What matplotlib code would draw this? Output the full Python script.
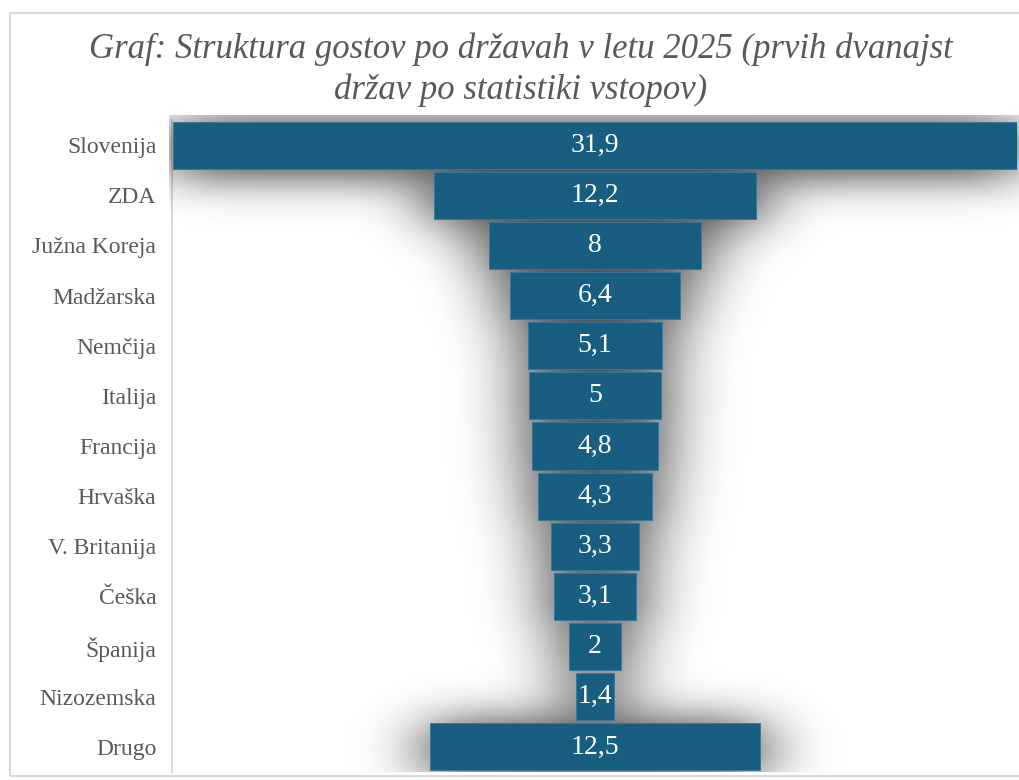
import numpy as np
import matplotlib.pyplot as plt
from matplotlib.patches import Rectangle

countries = ['Slovenija', 'ZDA', 'Južna Koreja', 'Madžarska', 'Nemčija', 'Italija',
             'Francija', 'Hrvaška', 'V. Britanija', 'Češka', 'Španija', 'Nizozemska', 'Drugo']
shares = [31.9, 12.2, 8.0, 6.4, 5.1, 5.0, 4.8, 4.3, 3.3, 3.1, 2.0, 1.4, 12.5]
title = 'Graf: Struktura gostov po državah v letu 2025 (prvih dvanajst\ndržav po statistiki vstopov)'

bar_color = '#175E80'
text_grey = '#595959'
serif = 'Liberation Serif'

W, H = 1019, 780
fig = plt.figure(figsize=(W / 100, H / 100), dpi=100)

# outer chart frame (runs off the right edge like the original)
fig.patches.append(Rectangle((10 / W, 1 - 776 / H), 1.1, (776 - 13) / H,
                             transform=fig.transFigure, fill=False,
                             edgecolor='#d9d9d9', linewidth=1.5))

ax = fig.add_axes([173 / W, 1 - 772 / H, (1017 - 173) / W, (772 - 120) / H])
for s in ['top', 'right', 'bottom']:
    ax.spines[s].set_visible(False)
ax.spines['left'].set_color('#d9d9d9')
ax.spines['left'].set_linewidth(1.5)
ax.spines['left'].set_position(('outward', 1))
ax.spines['left'].set_zorder(0.5)

half = max(shares) / 2
n = len(countries)
y = np.arange(n)
bh = 0.94
left = [-v / 2 for v in shares]

# soft drop shadow: each bar blurred separately, then composited like layered alpha
nx, ny = 844, 652
px_x = 2 * half / nx
px_y = n / ny
ext_l, ext_t, ext_r = 4, 5, 6           # shadow may spill a few px outside the axes
pad = 110
xs = -half + px_x * (np.arange(-ext_l - pad, nx + ext_r + pad) + 0.5)
ys = -0.5 + px_y * (np.arange(-ext_t - pad, ny + pad) + 0.5)


def gauss(sig):
    k = np.arange(-3 * sig, 3 * sig + 1)
    g = np.exp(-k ** 2 / (2 * sig ** 2))
    return g / g.sum()


kx, ky = gauss(34), gauss(22)
keep = 1.0
for yi, v in zip(y, shares):
    ix = (np.abs(xs) <= v / 2 + 2 * px_x).astype(float)
    iy = (np.abs(ys - (yi + 3 * px_y)) <= bh / 2 + 1 * px_y).astype(float)
    bx = np.convolve(ix, kx, mode='same')
    by = np.convolve(iy, ky, mode='same')
    keep = keep * (1 - 0.88 * np.outer(by, bx))
alpha = (1 - keep)[pad:-pad, pad:-pad]
rgba = np.zeros(alpha.shape + (4,))
rgba[..., 3] = alpha
ax.imshow(rgba, extent=(-half - ext_l * px_x, half + ext_r * px_x, n - 0.5, -0.5 - ext_t * px_y),
          aspect='auto', interpolation='bilinear', zorder=1, clip_on=False)

ax.barh(y, shares, left=left, height=bh, color=bar_color,
        edgecolor='#3a7797', linewidth=0.6, zorder=2)
ax.set_xlim(-half, half)
ax.set_ylim(n - 0.5, -0.5)

for yi, v in zip(y, shares):
    ax.text(0, yi, f'{v:g}'.replace('.', ','), ha='center', va='center',
            color='white', fontsize=20, family=serif, zorder=3)

ax.set_yticks(y)
ax.set_yticklabels(countries, fontsize=17, family=serif, color=text_grey)
ax.tick_params(axis='y', length=0, pad=11)
ax.set_xticks([])

fig.text(521 / W, 1 - 70 / H, title, ha='center', va='center', fontsize=25,
         style='italic', family=serif, color=text_grey, linespacing=1.3)

fig.savefig('out.png', dpi=100)
